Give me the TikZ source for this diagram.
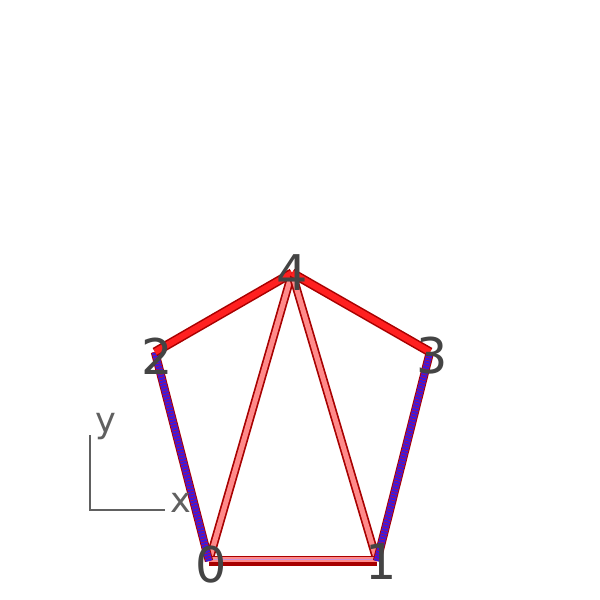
\documentclass[tikz,border=0pt]{standalone}
\usepackage{fontspec}
\setmainfont{DejaVu Sans}
\begin{document}
\begin{tikzpicture}[x=0.025cm,y=-0.025cm,
  vlabel/.style={inner sep=0pt,text=labgray,font=\fontsize{35}{35}\selectfont},
  alabel/.style={inner sep=0pt,text=axgray,font=\fontsize{25}{25}\selectfont,anchor=base west},
  edgeout/.style={line width=6.6pt,draw=edgedark,line cap=butt},
  redin/.style={line width=4.4pt,draw=edgered},
  pinkin/.style={line width=3.6pt,draw=edgepink},
  bluein/.style={line width=4.6pt,draw=edgeblue},
  bluehatch/.style={line width=4.6pt,draw=edgehatch,dash pattern=on 0.35pt off 1.7pt},
  axis/.style={draw=axgray,line width=0.8pt}]
\definecolor{labgray}{HTML}{444444}
\definecolor{axgray}{HTML}{606060}
\definecolor{edgedark}{HTML}{A80000}
\definecolor{edgered}{HTML}{FF2020}
\definecolor{edgehatch}{HTML}{D01020}
\definecolor{edgepink}{HTML}{FF8A8A}
\definecolor{edgeblue}{HTML}{3A18E0}
\definecolor{edgelav}{HTML}{C890D8}
\useasboundingbox (0,0) rectangle (600,600);
% vertices
\coordinate (v0) at (209,561);
\coordinate (v1) at (377,561);
\coordinate (v2) at (155,352);
\coordinate (v3) at (430,352);
\coordinate (v4) at (292,273);
% edges 0-4 and 4-1 (pink)
\draw[edgeout,line width=6.0pt] (v0) -- (v4);
\draw[pinkin] (v0) -- (v4);
\draw[edgeout,line width=6.0pt] (v4) -- (v1);
\draw[pinkin] (v4) -- (v1);
% edge 0-1 (striped)
\draw[edgeout] (v0) -- (v1);
\draw[line width=3.6pt,draw=edgepink] ([yshift=0.9pt]v0) -- ([yshift=0.9pt]v1);
\draw[line width=1.0pt,draw=edgelav] ([yshift=0.9pt]v0) -- ([yshift=0.9pt]v1);
% edges 2-0 and 3-1 (blue hatched)
\draw[edgeout,line width=6.0pt] (v2) -- (v0);
\draw[bluein] (v2) -- (v0);
\draw[bluehatch] (v2) -- (v0);
\draw[edgeout,line width=6.0pt] (v3) -- (v1);
\draw[bluein] (v3) -- (v1);
\draw[bluehatch] (v3) -- (v1);
% edges 2-4 and 4-3 (red)
\draw[edgeout] (v2) -- (v4);
\draw[redin] (v2) -- (v4);
\draw[edgeout] (v4) -- (v3);
\draw[redin] (v4) -- (v3);
% vertex labels
\node[vlabel] (l0) at (211,565) {0};
\node[vlabel] (l1) at (381,562) {1};
\node[vlabel] (l2) at (157,356) {2};
\node[vlabel] (l3) at (432,356) {3};
\node[vlabel] (l4) at (292,273) {4};
% axes
\coordinate (ao) at (90,510);
\coordinate (ax) at (165,510);
\coordinate (ay) at (90,435);
\draw[axis] (ay) -- (ao) -- (ax);
\node[alabel] (xl) at (170,512) {x};
\node[alabel] (yl) at (95,432) {y};
\end{tikzpicture}
\end{document}
